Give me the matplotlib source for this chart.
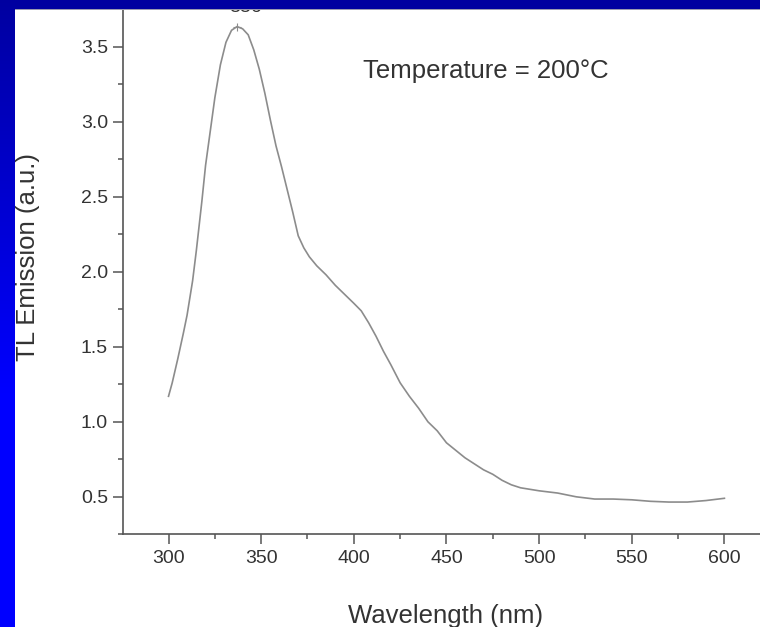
import numpy as np
import matplotlib
matplotlib.use('Agg')
import matplotlib.pyplot as plt
from matplotlib.patches import Rectangle
from matplotlib.ticker import MultipleLocator

plt.rcParams['font.family'] = ['Liberation Sans', 'DejaVu Sans']

# TL emission spectrum
wavelength = [300, 302, 305, 308, 310, 313, 315, 318, 320, 323, 325, 328, 331, 334,
              337, 340, 343, 346, 349, 352, 355, 358, 361, 364, 367, 370, 373, 376,
              380, 385, 390, 395, 400, 404, 408, 412, 416, 420, 425, 430, 435, 440,
              445, 450, 455, 460, 465, 470, 475, 480, 485, 490, 495, 500, 510, 520,
              530, 540, 550, 560, 570, 580, 590, 600]
emission = [1.17, 1.26, 1.42, 1.59, 1.71, 1.94, 2.14, 2.47, 2.71, 2.98, 3.16, 3.38, 3.53, 3.61,
            3.635, 3.62, 3.58, 3.48, 3.35, 3.19, 3.01, 2.84, 2.70, 2.55, 2.40, 2.24, 2.16, 2.10,
            2.04, 1.98, 1.91, 1.85, 1.79, 1.74, 1.66, 1.57, 1.47, 1.38, 1.26, 1.17, 1.09, 1.00,
            0.94, 0.86, 0.81, 0.76, 0.72, 0.68, 0.65, 0.61, 0.58, 0.56, 0.55, 0.54, 0.525, 0.50,
            0.485, 0.485, 0.48, 0.47, 0.465, 0.465, 0.475, 0.49]
peak_x = 337
peak_y = 3.635

W, H = 760, 627
fig = plt.figure(figsize=(W / 100, H / 100), dpi=100)
fig.patch.set_facecolor('white')

left_px, bottom_px = 123.3, 534.3
ax = fig.add_axes([left_px / W, (H - bottom_px) / H, 1 - left_px / W, bottom_px / H])
ax.plot(wavelength, emission, color='#8c8c8c', lw=1.2)
ax.plot([peak_x], [peak_y], marker='+', color='#8c8c8c', ms=6, mew=0.8)
ax.text(341.3, 3.73, '336', ha='center', va='baseline', fontsize=14, color='#333333')

ax.set_xlim(275.6, 619.2)
ax.set_ylim(0.25, 0.25 + bottom_px / 150)
ax.xaxis.set_minor_locator(MultipleLocator(25))
ax.yaxis.set_minor_locator(MultipleLocator(0.25))
ax.set_xticks([300, 350, 400, 450, 500, 550, 600])
ax.set_yticks([0.5, 1.0, 1.5, 2.0, 2.5, 3.0, 3.5])

for s in ['top', 'right']:
    ax.spines[s].set_visible(False)
for s in ['left', 'bottom']:
    ax.spines[s].set_color('#555555')
    ax.spines[s].set_linewidth(1.2)
ax.tick_params(which='major', direction='out', length=7, width=1.1, color='#555555',
               labelsize=14, labelcolor='#333333', pad=4)
ax.tick_params(which='minor', direction='out', length=3.6, width=1.1, color='#555555')

ax.text(405, 3.29, 'Temperature = 200\u00b0C', fontsize=18.5, color='#333333',
        ha='left', va='baseline')

fig.text(445.5 / W, 1 - 623 / H, 'Wavelength (nm)', fontsize=18.5, color='#333333',
         ha='center', va='baseline')
fig.text(28 / W, 1 - 257 / H, 'TL Emission (a.u.)', fontsize=18.5, color='#333333',
         rotation=90, ha='center', va='center')

# blue slide frame
fig.add_artist(Rectangle((0, 1 - 9 / H), 1, 9 / H, transform=fig.transFigure,
                         facecolor='#0000a0', edgecolor='none', zorder=10))
fig.add_artist(Rectangle((0, 1 - 10 / H), 1, 1 / H, transform=fig.transFigure,
                         facecolor='#9a9ab0', edgecolor='none', zorder=9))
strip = fig.add_axes([0, 0, 15 / W, 1], zorder=11)
grad = np.linspace(0, 1, 256).reshape(-1, 1)
grad = np.clip(grad * 1.6, 0, 1)
rgb = np.zeros((256, 1, 3))
rgb[:, 0, 2] = 0.63 + 0.37 * grad[:, 0]
strip.imshow(rgb, aspect='auto', extent=[0, 1, 1, 0])
strip.axis('off')

fig.savefig('out.png', dpi=100)
